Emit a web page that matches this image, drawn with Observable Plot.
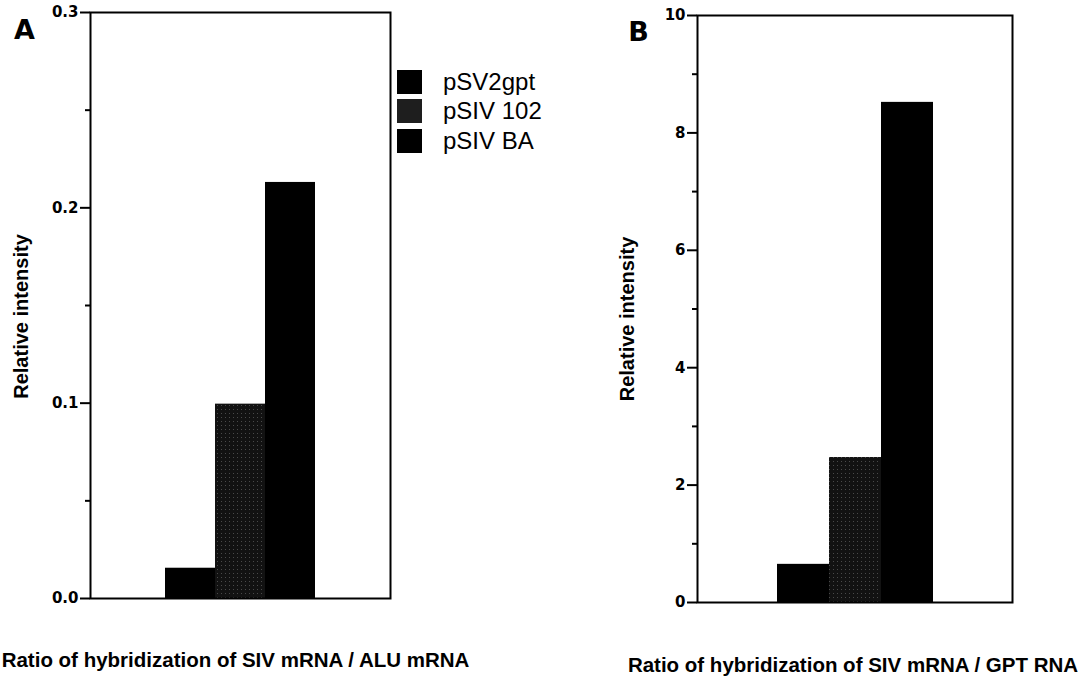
<!DOCTYPE html>
<html><head><meta charset="utf-8">
<script src="https://cdn.jsdelivr.net/npm/d3@7"></script>
<script src="https://cdn.jsdelivr.net/npm/@observablehq/plot@0.6"></script>
<style>
body{margin:0;background:#fff;}
#wrap{position:relative;width:1079px;height:676px;overflow:hidden;background:#fff;font-family:"Liberation Sans",Arial,Helvetica,sans-serif;}
.panel{position:absolute;top:0;}
#legend{position:absolute;left:397px;top:67px;}
.row{display:flex;align-items:center;height:29.5px;}
.sw{width:25px;height:24px;margin-right:21px;}
.lab{font-size:24px;color:#000;line-height:1;}
</style></head><body><div id="wrap"></div>
<script>
const series = ["pSV2gpt", "pSIV 102", "pSIV BA"];
const valuesA = [0.0155, 0.0995, 0.213];
const valuesB = [0.65, 2.47, 8.52];
const majorTicksA = [0, 0.1, 0.2, 0.3];
const minorTicksA = [0.05, 0.15, 0.25];
const majorTicksB = [0, 2, 4, 6, 8, 10];
const minorTicksB = [1, 3, 5, 7, 9];
const fills = ["#000000", "url(#stipple)", "#000000"];
const legendFills = ["#000000", "#1e1e1e", "#000000"];
const yLabel = "Relative intensity";
const titleA = "Ratio of hybridization of SIV mRNA / ALU mRNA";
const titleB = "Ratio of hybridization of SIV mRNA / GPT RNA";

const FONT = "Liberation Sans, Arial, Helvetica, sans-serif";
const HEAVY = "DejaVu Sans, Liberation Sans, Arial, sans-serif";

function panel(o) {
  const data = series.map((s, i) => ({series: s, value: o.values[i]}));
  const svg = Plot.plot({
    width: o.width, height: 676,
    marginLeft: o.ml, marginRight: o.mr, marginTop: o.mt, marginBottom: o.mb,
    style: {fontFamily: FONT, fontWeight: "bold", fontSize: "14px", color: "#000", background: "transparent", overflow: "visible"},
    x: {domain: series, paddingInner: 0, paddingOuter: 1.5, axis: null},
    y: {domain: o.domain, axis: null},
    color: {domain: series, range: fills},
    marks: [
      Plot.barY(data, {x: "series", y: "value", fill: "series"}),
      Plot.frame({stroke: "#000", strokeWidth: 2}),
      Plot.axisY(o.major, {tickSize: 10, tickFormat: () => "", strokeWidth: 2, label: null}),
      Plot.axisY(o.minor, {tickSize: 5, tickFormat: () => "", strokeWidth: 2, label: null}),
      Plot.text(o.major, {y: d => d, text: o.fmt, frameAnchor: "left", dx: -12, textAnchor: "end", lineAnchor: "middle", fontSize: 15, fontWeight: "bold", fontFamily: HEAVY, fill: "#000"}),
      Plot.text([yLabel], {text: d => d, frameAnchor: "left", dx: o.labelDx, dy: o.labelDy, rotate: -90, textAnchor: "middle", lineAnchor: "middle", fontSize: 20, fontWeight: "bold"}),
      Plot.text([o.title], {text: d => d, frameAnchor: "bottom", dx: o.titleDx, dy: o.titleDy, textAnchor: "middle", lineAnchor: "middle", fontSize: 20.5, fontWeight: "bold"}),
      Plot.text([o.letter], {text: d => d, frameAnchor: "top-left", dx: o.letterDx, dy: o.letterDy, textAnchor: "middle", lineAnchor: "middle", fontSize: 27, fontWeight: "bold", fontFamily: HEAVY})
    ]
  });
  const defs = d3.select(svg).insert("defs", ":first-child");
  const p = defs.append("pattern").attr("id", "stipple").attr("width", 4).attr("height", 4).attr("patternUnits", "userSpaceOnUse");
  p.append("rect").attr("width", 4).attr("height", 4).attr("fill", "#121212");
  p.append("rect").attr("x", 1).attr("y", 1).attr("width", 1).attr("height", 1).attr("fill", "#4a4a4a");
  svg.classList.add("panel");
  svg.style.left = o.left + "px";
  return svg;
}

const wrap = document.getElementById("wrap");
wrap.appendChild(panel({values: valuesA, domain: [0, 0.3], major: majorTicksA, minor: minorTicksA, fmt: d3.format(".1f"),
  width: 600, left: 0, ml: 90, mr: 210, mt: 12, mb: 78, labelDx: -69, labelDy: 11, title: titleA, titleDx: -5, titleDy: 62, letter: "A", letterDx: -66, letterDy: 18}));
wrap.appendChild(panel({values: valuesB, domain: [0, 10], major: majorTicksB, minor: minorTicksB, fmt: d3.format("d"),
  width: 479, left: 600, ml: 97, mr: 67, mt: 15, mb: 74, labelDx: -70, labelDy: 10, title: titleB, titleDx: -2, titleDy: 63, letter: "B", letterDx: -59, letterDy: 17}));

const legend = d3.select(wrap).append("div").attr("id", "legend");
const rows = legend.selectAll(".row").data(series).join("div").attr("class", "row");
rows.append("div").attr("class", "sw").style("background", (d, i) => legendFills[i]);
rows.append("div").attr("class", "lab").text(d => d);
</script></body></html>
